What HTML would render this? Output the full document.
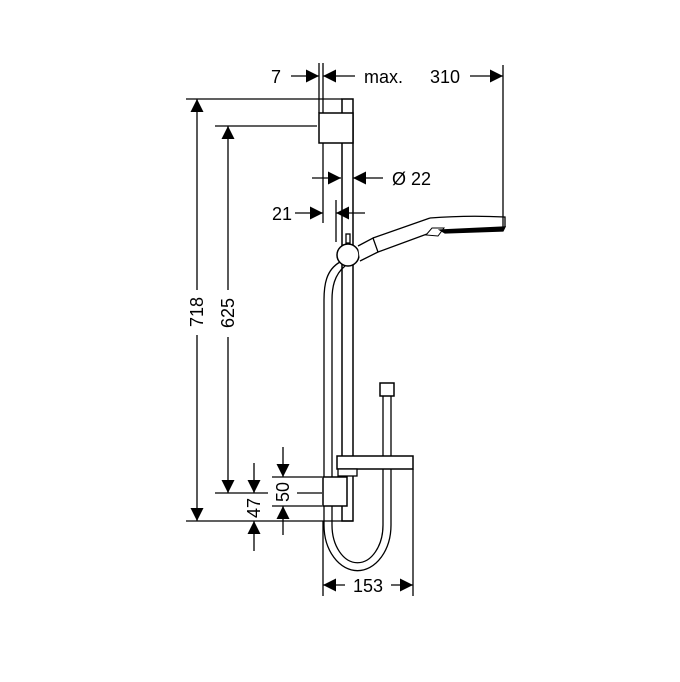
<!DOCTYPE html>
<html><head><style>html,body{margin:0;padding:0;background:#fff}</style></head>
<body>
<svg width="680" height="677" viewBox="0 0 680 677" xmlns="http://www.w3.org/2000/svg" font-family="Liberation Sans, sans-serif" font-size="18" fill="none" stroke="#000" stroke-width="1.3">
<defs>
<marker id="a" viewBox="0 0 10 10" refX="10" refY="5" markerWidth="14" markerHeight="13" markerUnits="userSpaceOnUse" orient="auto"><path d="M0,0L10,5L0,10z" fill="#000" stroke="none"/></marker>
</defs>
<line x1="186" y1="99" x2="342" y2="99"/>
<line x1="215" y1="126" x2="317" y2="126"/>
<line x1="186" y1="521" x2="353" y2="521"/>
<line x1="215" y1="493" x2="268" y2="493"/>
<line x1="297" y1="493" x2="322" y2="493"/>
<line x1="272" y1="477" x2="322" y2="477"/>
<line x1="272" y1="506" x2="322" y2="506"/>
<rect x="342" y="99" width="11" height="422" stroke-width="1.5"/>
<rect x="319" y="113" width="34" height="30" fill="#fff" stroke-width="1.5"/>
<line x1="319" y1="63" x2="319" y2="113"/>
<line x1="323" y1="63" x2="323" y2="113"/>
<line x1="323" y1="143" x2="323" y2="223"/>
<line x1="336" y1="200" x2="336" y2="242"/>
<line x1="503" y1="65" x2="503" y2="228"/>
<path d="M340,262 C326,270 324,285 324,300 L324,525 A33,45 0 0 0 391,525 L391,396"/>
<path d="M345,266 C334,275 332,288 332,300 L332,525 A25,37 0 0 0 383,525 L383,396"/>
<rect x="380" y="383" width="14" height="13" stroke-width="1.5" fill="#fff"/>
<rect x="337" y="456" width="76" height="13" fill="#fff" stroke-width="1.5"/>
<rect x="338" y="469" width="19" height="7" fill="#fff"/>
<rect x="323" y="477" width="24" height="29" fill="#fff" stroke-width="1.5"/>
<rect x="346" y="234" width="4" height="9" fill="#fff"/>
<circle cx="348" cy="255" r="11" fill="#fff" stroke-width="1.5"/>
<path d="M358,246 L373,238 L378,252 L360,261" fill="#fff"/>
<line x1="373" y1="238" x2="430" y2="218"/>
<line x1="378" y1="252" x2="427" y2="234"/>
<path d="M430,218 C455,216 485,216 505,217 L505,227"/>
<path d="M440,230 L505,227 L503,231 L445,233z" fill="#000"/>
<path d="M426,235 L432,228 L444,228 L438,236z" stroke-width="1"/>
<line x1="291" y1="76" x2="319" y2="76" marker-end="url(#a)"/>
<line x1="355" y1="76" x2="323" y2="76" marker-end="url(#a)"/>
<line x1="470" y1="76" x2="503" y2="76" marker-end="url(#a)"/>
<line x1="312" y1="178" x2="341" y2="178" marker-end="url(#a)"/>
<line x1="383" y1="178" x2="353" y2="178" marker-end="url(#a)"/>
<line x1="295" y1="213" x2="323" y2="213" marker-end="url(#a)"/>
<line x1="365" y1="213" x2="336" y2="213" marker-end="url(#a)"/>
<line x1="197" y1="290" x2="197" y2="99" marker-end="url(#a)"/>
<line x1="197" y1="335" x2="197" y2="521" marker-end="url(#a)"/>
<line x1="228" y1="290" x2="228" y2="126" marker-end="url(#a)"/>
<line x1="228" y1="337" x2="228" y2="493" marker-end="url(#a)"/>
<line x1="254" y1="463" x2="254" y2="493" marker-end="url(#a)"/>
<line x1="254" y1="551" x2="254" y2="521" marker-end="url(#a)"/>
<line x1="283" y1="447" x2="283" y2="477" marker-end="url(#a)"/>
<line x1="283" y1="535" x2="283" y2="506" marker-end="url(#a)"/>
<line x1="323" y1="521" x2="323" y2="596"/>
<line x1="413" y1="469" x2="413" y2="596"/>
<line x1="345" y1="585" x2="323" y2="585" marker-end="url(#a)"/>
<line x1="391" y1="585" x2="413" y2="585" marker-end="url(#a)"/>
<g fill="#000" stroke="none">
<text x="276" y="83" text-anchor="middle">7</text>
<text x="364" y="83">max.</text>
<text x="445" y="83" text-anchor="middle">310</text>
<text x="392" y="185">Ø  22</text>
<text x="282" y="220" text-anchor="middle">21</text>
<text x="368" y="592" text-anchor="middle">153</text>
<text transform="translate(203,312) rotate(-90)" text-anchor="middle">718</text>
<text transform="translate(234,313) rotate(-90)" text-anchor="middle">625</text>
<text transform="translate(260,508) rotate(-90)" text-anchor="middle">47</text>
<text transform="translate(289,492) rotate(-90)" text-anchor="middle">50</text>
</g>
</svg>
</body></html>
